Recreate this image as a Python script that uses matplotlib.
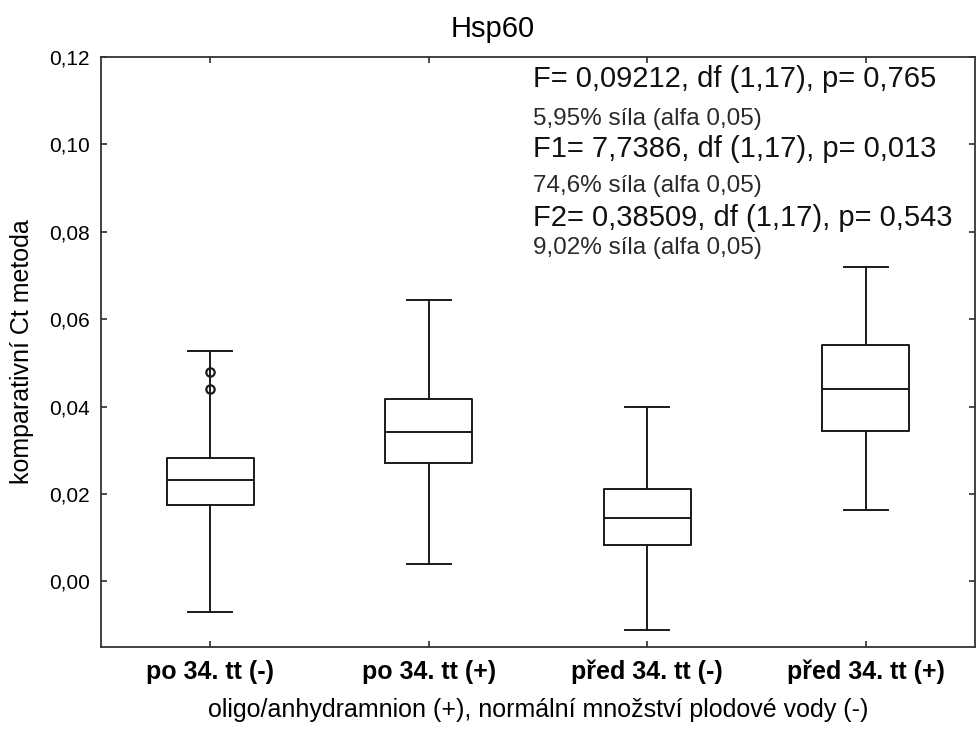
import matplotlib.pyplot as plt

plt.rcParams['font.family'] = ['Liberation Sans', 'DejaVu Sans']

# skupiny a hodnoty krabic
skupiny = ['po 34. tt (-)', 'po 34. tt (+)', 'před 34. tt (-)', 'před 34. tt (+)']
medianY = [0.0231, 0.0341, 0.0146, 0.0441]
q1 = [0.0176, 0.0270, 0.0083, 0.0344]
q3 = [0.0283, 0.0417, 0.0211, 0.0540]
whisk_lo = [-0.0069, 0.0041, -0.0110, 0.0163]
whisk_hi = [0.0527, 0.0643, 0.0399, 0.0719]
odlehle = [[0.0480, 0.0441], [], [], []]

yticks = [0.00, 0.02, 0.04, 0.06, 0.08, 0.10, 0.12]

radky = [
    ('F= 0,09212, df (1,17), p= 0,765', 'big'),
    ('5,95% síla (alfa 0,05)', 'small'),
    ('F1= 7,7386, df (1,17), p= 0,013', 'big'),
    ('74,6% síla (alfa 0,05)', 'small'),
    ('F2= 0,38509, df (1,17), p= 0,543', 'big'),
    ('9,02% síla (alfa 0,05)', 'small'),
]
baseline_px = [87, 125, 157, 192, 226, 254]

W, H = 978, 731
fig = plt.figure(figsize=(W / 100, H / 100), dpi=100)
ax = fig.add_axes([101 / W, 1 - 647 / H, (975 - 101) / W, (647 - 57) / H])

stats = []
for i in range(4):
    stats.append({'med': medianY[i], 'q1': q1[i], 'q3': q3[i],
                  'whislo': whisk_lo[i], 'whishi': whisk_hi[i],
                  'fliers': odlehle[i], 'label': skupiny[i]})

lc = '#1a1a1a'
lw = 1.4
ax.bxp(stats, positions=[1, 2, 3, 4], widths=0.4, showfliers=True,
       boxprops=dict(color=lc, linewidth=lw),
       medianprops=dict(color=lc, linewidth=lw),
       whiskerprops=dict(color=lc, linewidth=lw),
       capprops=dict(color=lc, linewidth=lw),
       capwidths=0.2,
       flierprops=dict(marker='o', markersize=6, markerfacecolor='none',
                       markeredgecolor=lc, markeredgewidth=1.6))

ax.set_xlim(0.5, 4.5)
ax.set_ylim(-0.015, 0.12)
ax.set_yticks(yticks)
ax.set_yticklabels([('%.2f' % v).replace('.', ',') for v in yticks], fontsize=15)
ax.set_xticks([1, 2, 3, 4])
ax.set_xticklabels(skupiny, fontsize=18, fontweight='bold')
ax.tick_params(direction='in', length=4, width=1.1, color=lc, top=True, right=True)
ax.tick_params(axis='y', pad=8)
ax.tick_params(axis='x', pad=9)
for s in ax.spines.values():
    s.set_linewidth(1.3)
    s.set_color('#333333')

ax.set_ylabel('komparativní Ct metoda', fontsize=18, labelpad=11)
ax.set_xlabel('oligo/anhydramnion (+), normální množství plodové vody (-)',
              fontsize=18, labelpad=10)

fig.text(493 / W, 1 - 37 / H, 'Hsp60', fontsize=21, ha='center', va='baseline')

for (txt, kind), b in zip(radky, baseline_px):
    fig.text(533 / W, 1 - b / H, txt, fontsize=21 if kind == 'big' else 17.5,
             ha='left', va='baseline', color='#111111' if kind == 'big' else '#2a2a2a')

fig.savefig('out.png', dpi=100)
